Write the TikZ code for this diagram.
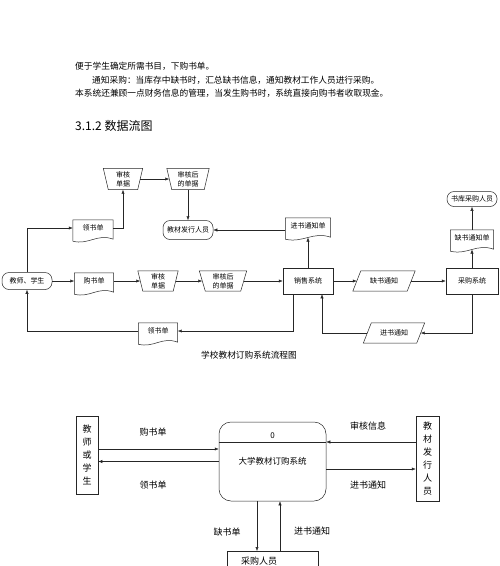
\documentclass[tikz,border=0pt]{standalone}
\usepackage{fontspec}
\setmainfont{Noto Sans CJK SC}
\usetikzlibrary{arrows.meta,calc}
\newcommand\docout[1]{\draw[ln] (#1.north west) -- (#1.north east) -- ($(#1.south east)+(0,3)$) .. controls ($(#1.south west)!0.6!(#1.south east)+(0,-3)$) and ($(#1.south west)!0.4!(#1.south east)+(0,9)$) .. ($(#1.south west)+(0,5)$) -- cycle;}
\newcommand\trapout[2]{\draw[ln] (#1.north west) -- (#1.north east) -- ([xshift=-#2]#1.south east) -- ([xshift=#2]#1.south west) -- cycle;}
\newcommand\paraout[2]{\draw[ln] ([xshift=#2]#1.north west) -- (#1.north east) -- ([xshift=-#2]#1.south east) -- (#1.south west) -- cycle;}
\begin{document}
\begin{tikzpicture}[x=1pt,y=-1pt,
  every node/.style={inner sep=0pt, font=\fontsize{7}{9}\selectfont, align=center},
  ln/.style={line width=0.5pt, draw=black!85},
  arr/.style={ln, -{Latex[length=4pt,width=3.2pt]}},
  term/.style={ln, draw, rounded corners=7pt},
  rbox/.style={ln, draw},
  bodytext/.style={anchor=west, font=\fontsize{8.7}{10}\selectfont},
  dfdtext/.style={font=\fontsize{9}{10}\selectfont},
  vtext/.style={font=\fontsize{9}{13}\selectfont}]
\fill[white] (0,0) rectangle (500,566);
\useasboundingbox (0,0) rectangle (500,566);

% body text
\node[bodytext] (l1) at (75,66) {便于学生确定所需书目，下购书单。};
\node[bodytext] (l2) at (92,80) {通知采购：当库存中缺书时，汇总缺书信息，通知教材工作人员进行采购。};
\node[bodytext] (l3) at (75,93) {本系统还兼顾一点财务信息的管理，当发生购书时，系统直接向购书者收取现金。};
\node[anchor=west, font=\fontsize{12}{14}\selectfont] (hd) at (75,126) {3.1.2 数据流图};

% flowchart nodes
\node[term, minimum width=50, minimum height=17] (t1) at (27,281) {教师、学生};
\node[minimum width=39, minimum height=16] (d1) at (94,281) {购书单}; \docout{d1}
\node[minimum width=40, minimum height=20] (tr1) at (158,281) {审核\\单据}; \trapout{tr1}{5pt}
\node[minimum width=47, minimum height=20] (tr2) at (223,281) {审核后\\的单据}; \trapout{tr2}{6pt}
\node[rbox, minimum width=50, minimum height=26] (xs) at (308,281) {销售系统};
\node[minimum width=62, minimum height=20] (qs) at (384,281) {缺书通知}; \paraout{qs}{8pt}
\node[rbox, minimum width=52, minimum height=26] (cg) at (472,281) {采购系统};
\node[minimum width=43, minimum height=16] (qsd) at (472,238) {缺书通知单}; \docout{qsd}
\node[term, minimum width=50, minimum height=15] (skr) at (472,199) {书库采购人员};
\node[minimum width=45, minimum height=16] (jtd) at (308,226) {进书通知单}; \docout{jtd}
\node[term, minimum width=50, minimum height=19] (jf) at (188,230) {教材发行人员};
\node[minimum width=39, minimum height=21] (tr3) at (123,179) {审核\\单据}; \trapout{tr3}{5pt}
\node[minimum width=42, minimum height=21] (tr4) at (188,179) {审核后\\的单据}; \trapout{tr4}{5pt}
\node[minimum width=40, minimum height=16] (d2) at (93,228) {领书单}; \docout{d2}
\node[minimum width=39, minimum height=16] (d3) at (158,331) {领书单}; \docout{d3}
\node[minimum width=61, minimum height=20] (p2) at (394,333) {进书通知}; \paraout{p2}{8pt}
\node[font=\fontsize{8.7}{10}\selectfont] (cap) at (249,355) {学校教材订购系统流程图};

% flowchart connectors
\draw[arr] (t1.east) -- (t1.east -| d1.west);
\draw[arr] (d1.east) -- ([xshift=2.5pt]tr1.west);
\draw[arr] ([xshift=-2.5pt]tr1.east) -- ([xshift=3pt]tr2.west);
\draw[arr] ([xshift=-3pt]tr2.east) -- (xs.west);
\draw[arr] (xs.east) -- ([xshift=4pt]qs.west);
\draw[arr] ([xshift=-4pt]qs.east) -- (cg.west);
\draw[arr] (xs.north) -- ($(jtd.south)+(0,3.3)$);
\draw[arr] (jtd.west |- jf.east) -- (jf.east);
\draw[arr] (cg.north) -- ($(qsd.south)+(0,3.3)$);
\draw[arr] (qsd.north) -- (skr.south);
\draw[arr] (t1.north) |- (d2.west);
\draw[arr] (d2.east) -| (tr3.south);
\draw[arr] ([xshift=-2.5pt]tr3.east) -- ([xshift=2.5pt]tr4.west);
\draw[arr] (tr4.south) -- (jf.north);
\draw[arr] ([xshift=-15pt]xs.south) |- (d3.east);
\draw[arr] (d3.west) -| (t1.south);
\draw[arr] (cg.south) |- ([xshift=-4pt]p2.east);
\draw[arr] ([xshift=4pt]p2.west) -| ([xshift=14pt]xs.south);

% data flow diagram
\node[rbox, vtext, minimum width=22, minimum height=78] (ts) at (87,455) {教\\师\\或\\学\\生};
\node[rbox, rounded corners=12pt, minimum width=107, minimum height=79, font=\fontsize{8.5}{10}\selectfont] (sys) at (272.5,461.5) {大学教材订购系统};
\draw[ln] ($(sys.north west)+(0,20)$) -- ($(sys.north east)+(0,20)$);
\node[font=\fontsize{8}{9}\selectfont] (zero) at (272.5,436) {0};
\node[rbox, vtext, minimum width=23, minimum height=85] (jf2) at (427.5,458.5) {教\\材\\发\\行\\人\\员};
\node[rbox, minimum width=91, minimum height=30, anchor=north] (cgr) at (272.5,551) {};
\node[dfdtext] (cgt) at (259,561) {采购人员};

\draw[arr] ($(ts.east)+(0,-6)$) -- ($(ts.east -| sys.west)+(0,-6)$);
\draw[arr] (sys.west) -- (sys.west -| ts.east);
\draw[arr] ($(jf2.west)+(0,-16.5)$) -- ($(jf2.west -| sys.east)+(0,-16.5)$);
\draw[arr] ($(sys.east)+(0,7.5)$) -- ($(sys.east -| jf2.west)+(0,7.5)$);
\draw[arr] ($(sys.south)+(-15.5,0)$) -- ($(cgr.north)+(-15.5,0)$);
\draw[arr] ($(cgr.north)+(7.5,0)$) -- ($(sys.south)+(7.5,0)$);

\node[dfdtext] (lb1) at (153,432) {购书单};
\node[dfdtext] (lb2) at (153,485) {领书单};
\node[dfdtext] (lb3) at (368,426) {审核信息};
\node[dfdtext] (lb4) at (368,485) {进书通知};
\node[dfdtext] (lb5) at (227,532) {缺书单};
\node[dfdtext] (lb6) at (312,531) {进书通知};
\end{tikzpicture}
\end{document}
